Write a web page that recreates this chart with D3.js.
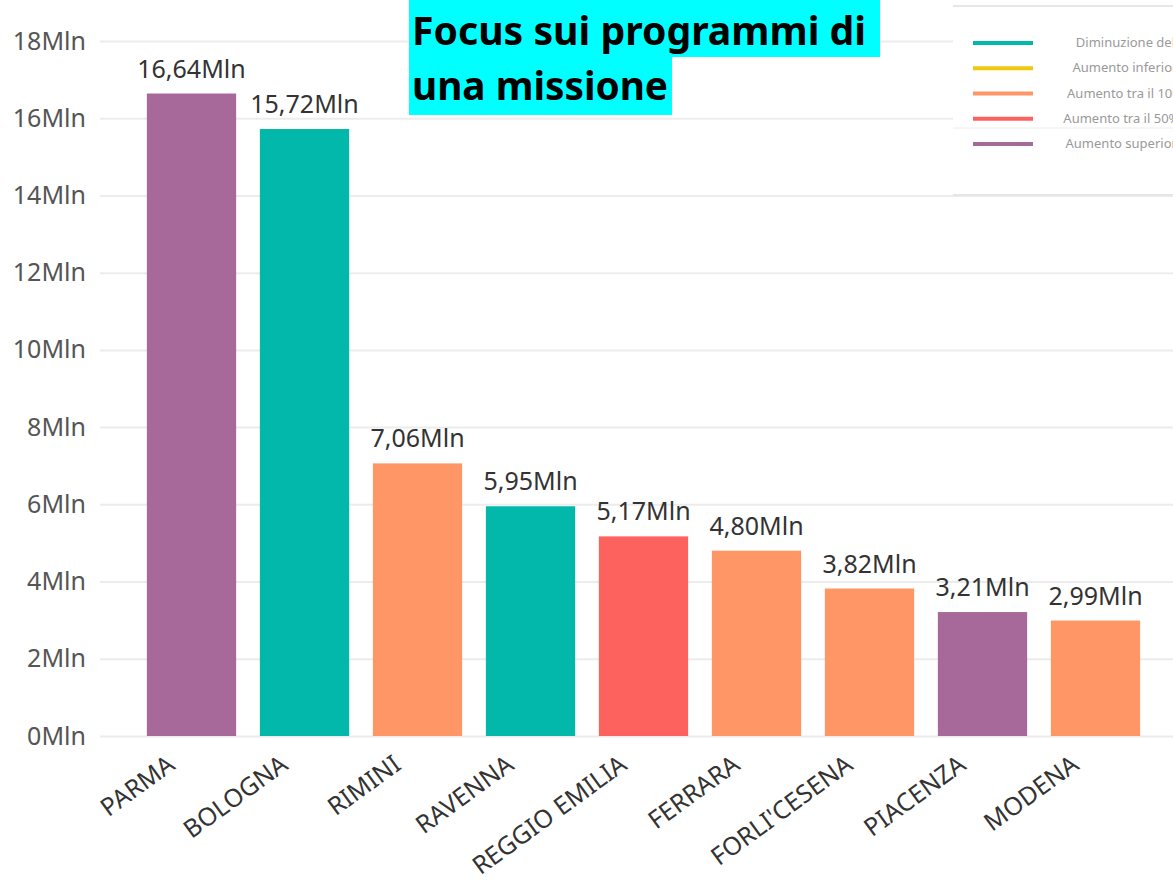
<!DOCTYPE html>
<html>
<head>
<meta charset="utf-8">
<script src="https://cdn.jsdelivr.net/npm/d3@7"></script>
<style>
  body { margin: 0; background: #fff; }
  svg { display: block; font-family: "Noto Sans", sans-serif; }
</style>
</head>
<body>
<div id="chart"></div>
<script>
const categories = ["PARMA", "BOLOGNA", "RIMINI", "RAVENNA", "REGGIO EMILIA", "FERRARA", "FORLI'CESENA", "PIACENZA", "MODENA"];
const values = [16.64, 15.72, 7.06, 5.95, 5.17, 4.80, 3.82, 3.21, 2.99];
const groups = [4, 0, 2, 0, 3, 2, 2, 4, 2];
const yTicks = [0, 2, 4, 6, 8, 10, 12, 14, 16, 18];
const legendLabels = ["Diminuzione della spesa", "Aumento inferiore al 10%", "Aumento tra il 10% e il 50%", "Aumento tra il 50% e il 100%", "Aumento superiore al 100%"];
const legendColors = ["#01B8AA", "#F2C80F", "#FE9666", "#FD625E", "#A66999"];
const titleLines = ["Focus sui programmi di", "una missione"];

const width = 1173, height = 888;
const svg = d3.select("#chart").append("svg")
    .attr("width", width)
    .attr("height", height);

const x = d3.scaleBand()
    .domain(categories)
    .range([135, 1152])
    .paddingInner(0.21)
    .paddingOuter(0.105);

const y = d3.scaleLinear()
    .domain([0, 18])
    .range([736, 41]);

const fmt = v => d3.format(".2f")(v).replace(".", ",") + "Mln";

// gridlines + y labels
const yAxis = svg.append("g")
    .attr("transform", "translate(100,0)")
    .call(d3.axisLeft(y).tickValues(yTicks).tickSize(-1073).tickPadding(14).tickFormat(d => d + "Mln"));
yAxis.select(".domain").remove();
yAxis.selectAll(".tick line").attr("stroke", "#ececec").attr("stroke-width", 2);
yAxis.selectAll(".tick text")
    .attr("fill", "#555")
    .attr("font-size", 25)
    .attr("font-family", "Noto Sans, sans-serif");

// bars
svg.append("g").selectAll("rect")
    .data(categories)
    .enter().append("rect")
    .attr("x", d => x(d))
    .attr("y", (d, i) => y(values[i]))
    .attr("width", x.bandwidth())
    .attr("height", (d, i) => y(0) - y(values[i]))
    .attr("fill", (d, i) => legendColors[groups[i]]);

// value labels
svg.append("g").selectAll("text")
    .data(categories)
    .enter().append("text")
    .attr("x", d => x(d) + x.bandwidth() / 2)
    .attr("y", (d, i) => y(values[i]) - 16)
    .attr("text-anchor", "middle")
    .attr("font-size", 25)
    .attr("fill", "#333")
    .text((d, i) => fmt(values[i]));

// x labels
svg.append("g").selectAll("text")
    .data(categories)
    .enter().append("text")
    .attr("transform", d => `translate(${x(d) + x.bandwidth() / 2 - 15},768) rotate(-36)`)
    .attr("text-anchor", "end")
    .attr("font-size", 25)
    .attr("fill", "#333")
    .text(d => d);

// legend panel (cut off at right edge, as in the source)
const legend = svg.append("g");
legend.append("rect")
    .attr("x", 953).attr("y", 6)
    .attr("width", 230).attr("height", 189)
    .attr("fill", "#fff");
legend.append("line").attr("x1", 953).attr("x2", width).attr("y1", 6).attr("y2", 6)
    .attr("stroke", "#e6e6e6").attr("stroke-width", 2);
legend.append("line").attr("x1", 953).attr("x2", width).attr("y1", 195).attr("y2", 195)
    .attr("stroke", "#e6e6e6").attr("stroke-width", 2);
legend.append("line").attr("x1", 953).attr("x2", width).attr("y1", 128).attr("y2", 128)
    .attr("stroke", "#ececec").attr("stroke-width", 1);

const ly = d3.scalePoint().domain(d3.range(legendLabels.length)).range([43, 144]);
legend.selectAll(".lg-line")
    .data(legendLabels)
    .enter().append("line")
    .attr("x1", 973).attr("x2", 1033)
    .attr("y1", (d, i) => ly(i)).attr("y2", (d, i) => ly(i))
    .attr("stroke", (d, i) => legendColors[i])
    .attr("stroke-width", 4);
legend.selectAll(".lg-text")
    .data(legendLabels)
    .enter().append("text")
    .attr("x", 1150)
    .attr("y", (d, i) => ly(i) + 4)
    .attr("text-anchor", "middle")
    .attr("font-size", 13)
    .attr("fill", "#999")
    .text(d => d);

// title with cyan highlight
const title = svg.append("g");
const lineWidths = [454, 256];
titleLines.forEach((t, i) => {
    const baseline = 45 + i * 55;
    title.append("rect")
        .attr("x", 409)
        .attr("y", i * 57)
        .attr("width", lineWidths[i] + (i === 0 ? 17 : 7))
        .attr("height", i === 0 ? 57 : 58)
        .attr("fill", "#00FFFF");
    title.append("text")
        .attr("x", 412)
        .attr("y", baseline)
        .attr("font-size", 40)
        .attr("font-weight", "bold")
        .attr("fill", "#000")
        .attr("textLength", lineWidths[i])
        .attr("lengthAdjust", "spacingAndGlyphs")
        .text(t);
});
</script>
</body>
</html>
